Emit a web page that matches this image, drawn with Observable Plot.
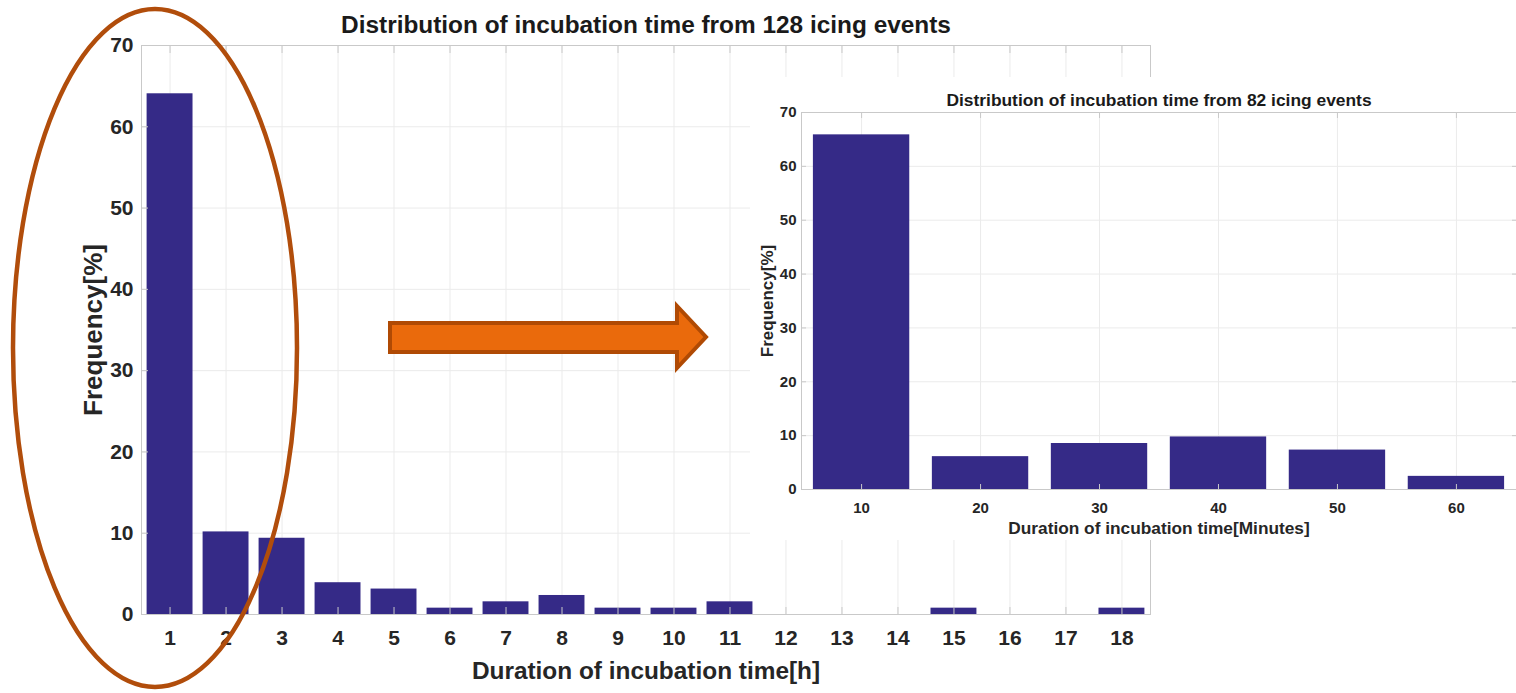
<!DOCTYPE html>
<html><head><meta charset="utf-8">
<script src="https://cdn.jsdelivr.net/npm/d3@7"></script>
<script src="https://cdn.jsdelivr.net/npm/@observablehq/plot@0.6"></script>
<style>
body{margin:0;background:#fff;}
#wrap{position:relative;width:1516px;height:693px;overflow:hidden;background:#fff;}
#main{position:absolute;left:0;top:0}
#inset{position:absolute;left:750px;top:77px;width:766px;height:463px;background:#fff;overflow:hidden}
#overlay{position:absolute;left:0;top:0;pointer-events:none}
</style></head>
<body><div id="wrap"><div id="main"></div><div id="inset"></div></div>
<script>
// Main chart: 128 icing events, hourly bins
const hourLabels = ["1","2","3","4","5","6","7","8","9","10","11","12","13","14","15","16","17","18"];
const hourFreq = [64.06, 10.16, 9.38, 3.91, 3.13, 0.78, 1.56, 2.34, 0.78, 0.78, 1.56, 0, 0, 0, 0.78, 0, 0, 0.78];
// Inset chart: 82 icing events, 10-minute bins
const minuteLabels = ["10","20","30","40","50","60"];
const minuteFreq = [65.85, 6.10, 8.54, 9.76, 7.32, 2.44];
const yTicks = [0, 10, 20, 30, 40, 50, 60, 70];

const mainTitle = "Distribution of incubation time from 128 icing events";
const insetTitle = "Distribution of incubation time from 82 icing events";
const mainXLabel = "Duration of incubation time[h]";
const insetXLabel = "Duration of incubation time[Minutes]";
const yLabel = "Frequency[%]";

const FONT = '"Liberation Sans", Arial, sans-serif';
const BAR = "#352a87";
const GRID = "#ebebeb";
const AX = "#c9c9c9";
const TXT = "#262626";

const hourData = hourLabels.map((h, i) => ({h, v: hourFreq[i]}));
const minuteData = minuteLabels.map((m, i) => ({m, v: minuteFreq[i]}));

const main = Plot.plot({
  width: 1516, height: 693,
  marginLeft: 141, marginRight: 366, marginTop: 45, marginBottom: 79,
  style: {fontFamily: FONT, fontWeight: "bold", color: TXT, background: "transparent", overflow: "visible"},
  x: {domain: hourLabels, paddingInner: 0.18, paddingOuter: 0.1, round: false, label: null},
  y: {domain: [0, 70], label: null},
  marks: [
    Plot.gridX({stroke: GRID, strokeOpacity: 1}),
    Plot.gridY(yTicks, {stroke: GRID, strokeOpacity: 1}),
    Plot.barY(hourData, {x: "h", y: "v", fill: BAR}),
    Plot.frame({stroke: AX}),
    Plot.axisX({anchor: "bottom", tickSize: 0, tickPadding: 16, fontSize: 21, fill: TXT, label: null}),
    Plot.axisX({anchor: "bottom", tickSize: -7, tickFormat: () => "", stroke: AX, label: null}),
    Plot.axisX({anchor: "top", tickSize: -7, tickFormat: () => "", stroke: AX, label: null}),
    Plot.axisY(yTicks, {anchor: "left", tickSize: 0, tickPadding: 8, fontSize: 21, fill: TXT, label: null}),
    Plot.axisY(yTicks, {anchor: "left", tickSize: -7, tickFormat: () => "", stroke: AX, label: null}),
    Plot.axisY(yTicks, {anchor: "right", tickSize: -7, tickFormat: () => "", stroke: AX, label: null}),
    Plot.text([yLabel], {text: d => d, frameAnchor: "left", textAnchor: "middle", lineAnchor: "middle", rotate: -90, dx: -48, fontSize: 26, fill: TXT}),
    Plot.text([mainXLabel], {text: d => d, frameAnchor: "bottom", textAnchor: "middle", dy: 64, fontSize: 24.4, fill: TXT}),
    Plot.text([mainTitle], {text: d => d, frameAnchor: "top", textAnchor: "middle", dy: -30, fontSize: 24.4, fill: "#1a1a1a"})
  ]
});
document.getElementById("main").appendChild(main);

const inset = Plot.plot({
  width: 766, height: 463,
  marginLeft: 51, marginRight: 0, marginTop: 35, marginBottom: 51,
  style: {fontFamily: FONT, fontWeight: "bold", color: TXT, background: "#fff"},
  x: {domain: minuteLabels, paddingInner: 0.19, paddingOuter: 0.1, round: false, label: null},
  y: {domain: [0, 70], label: null},
  marks: [
    Plot.gridX({stroke: GRID, strokeOpacity: 1}),
    Plot.gridY(yTicks, {stroke: GRID, strokeOpacity: 1}),
    Plot.barY(minuteData, {x: "m", y: "v", fill: BAR}),
    Plot.frame({stroke: AX}),
    Plot.axisX({anchor: "bottom", tickSize: 0, tickPadding: 13, fontSize: 15, fill: TXT, label: null}),
    Plot.axisX({anchor: "bottom", tickSize: -5, tickFormat: () => "", stroke: AX, label: null}),
    Plot.axisX({anchor: "top", tickSize: -5, tickFormat: () => "", stroke: AX, label: null}),
    Plot.axisY(yTicks, {anchor: "left", tickSize: 0, tickPadding: 5, fontSize: 15, fill: TXT, label: null}),
    Plot.axisY(yTicks, {anchor: "left", tickSize: -5, tickFormat: () => "", stroke: AX, label: null}),
    Plot.axisY(yTicks, {anchor: "right", tickSize: -5, tickFormat: () => "", stroke: AX, label: null}),
    Plot.text([yLabel], {text: d => d, frameAnchor: "left", textAnchor: "middle", lineAnchor: "middle", rotate: -90, dx: -34, fontSize: 17, fill: TXT}),
    Plot.text([insetXLabel], {text: d => d, frameAnchor: "bottom", textAnchor: "middle", dy: 44, fontSize: 17.3, fill: TXT}),
    Plot.text([insetTitle], {text: d => d, frameAnchor: "top", textAnchor: "middle", dy: -19, fontSize: 17.4, fill: "#1a1a1a"})
  ]
});
document.getElementById("inset").appendChild(inset);

// Annotation overlay: ellipse and arrow
const ns = "http://www.w3.org/2000/svg";
const ov = document.createElementNS(ns, "svg");
ov.setAttribute("id", "overlay");
ov.setAttribute("width", 1516);
ov.setAttribute("height", 693);
const ell = document.createElementNS(ns, "ellipse");
ell.setAttribute("cx", 155); ell.setAttribute("cy", 348);
ell.setAttribute("rx", 142); ell.setAttribute("ry", 339);
ell.setAttribute("fill", "none"); ell.setAttribute("stroke", "#b14d0b"); ell.setAttribute("stroke-width", 4.5);
ov.appendChild(ell);
const arrow = document.createElementNS(ns, "path");
arrow.setAttribute("d", "M390,323 H677 V306 L706,337 L677,368 V352 H390 Z");
arrow.setAttribute("fill", "#ea6a0c"); arrow.setAttribute("stroke", "#b04a04"); arrow.setAttribute("stroke-width", 4);
ov.appendChild(arrow);
document.getElementById("wrap").appendChild(ov);
</script>
</body></html>
